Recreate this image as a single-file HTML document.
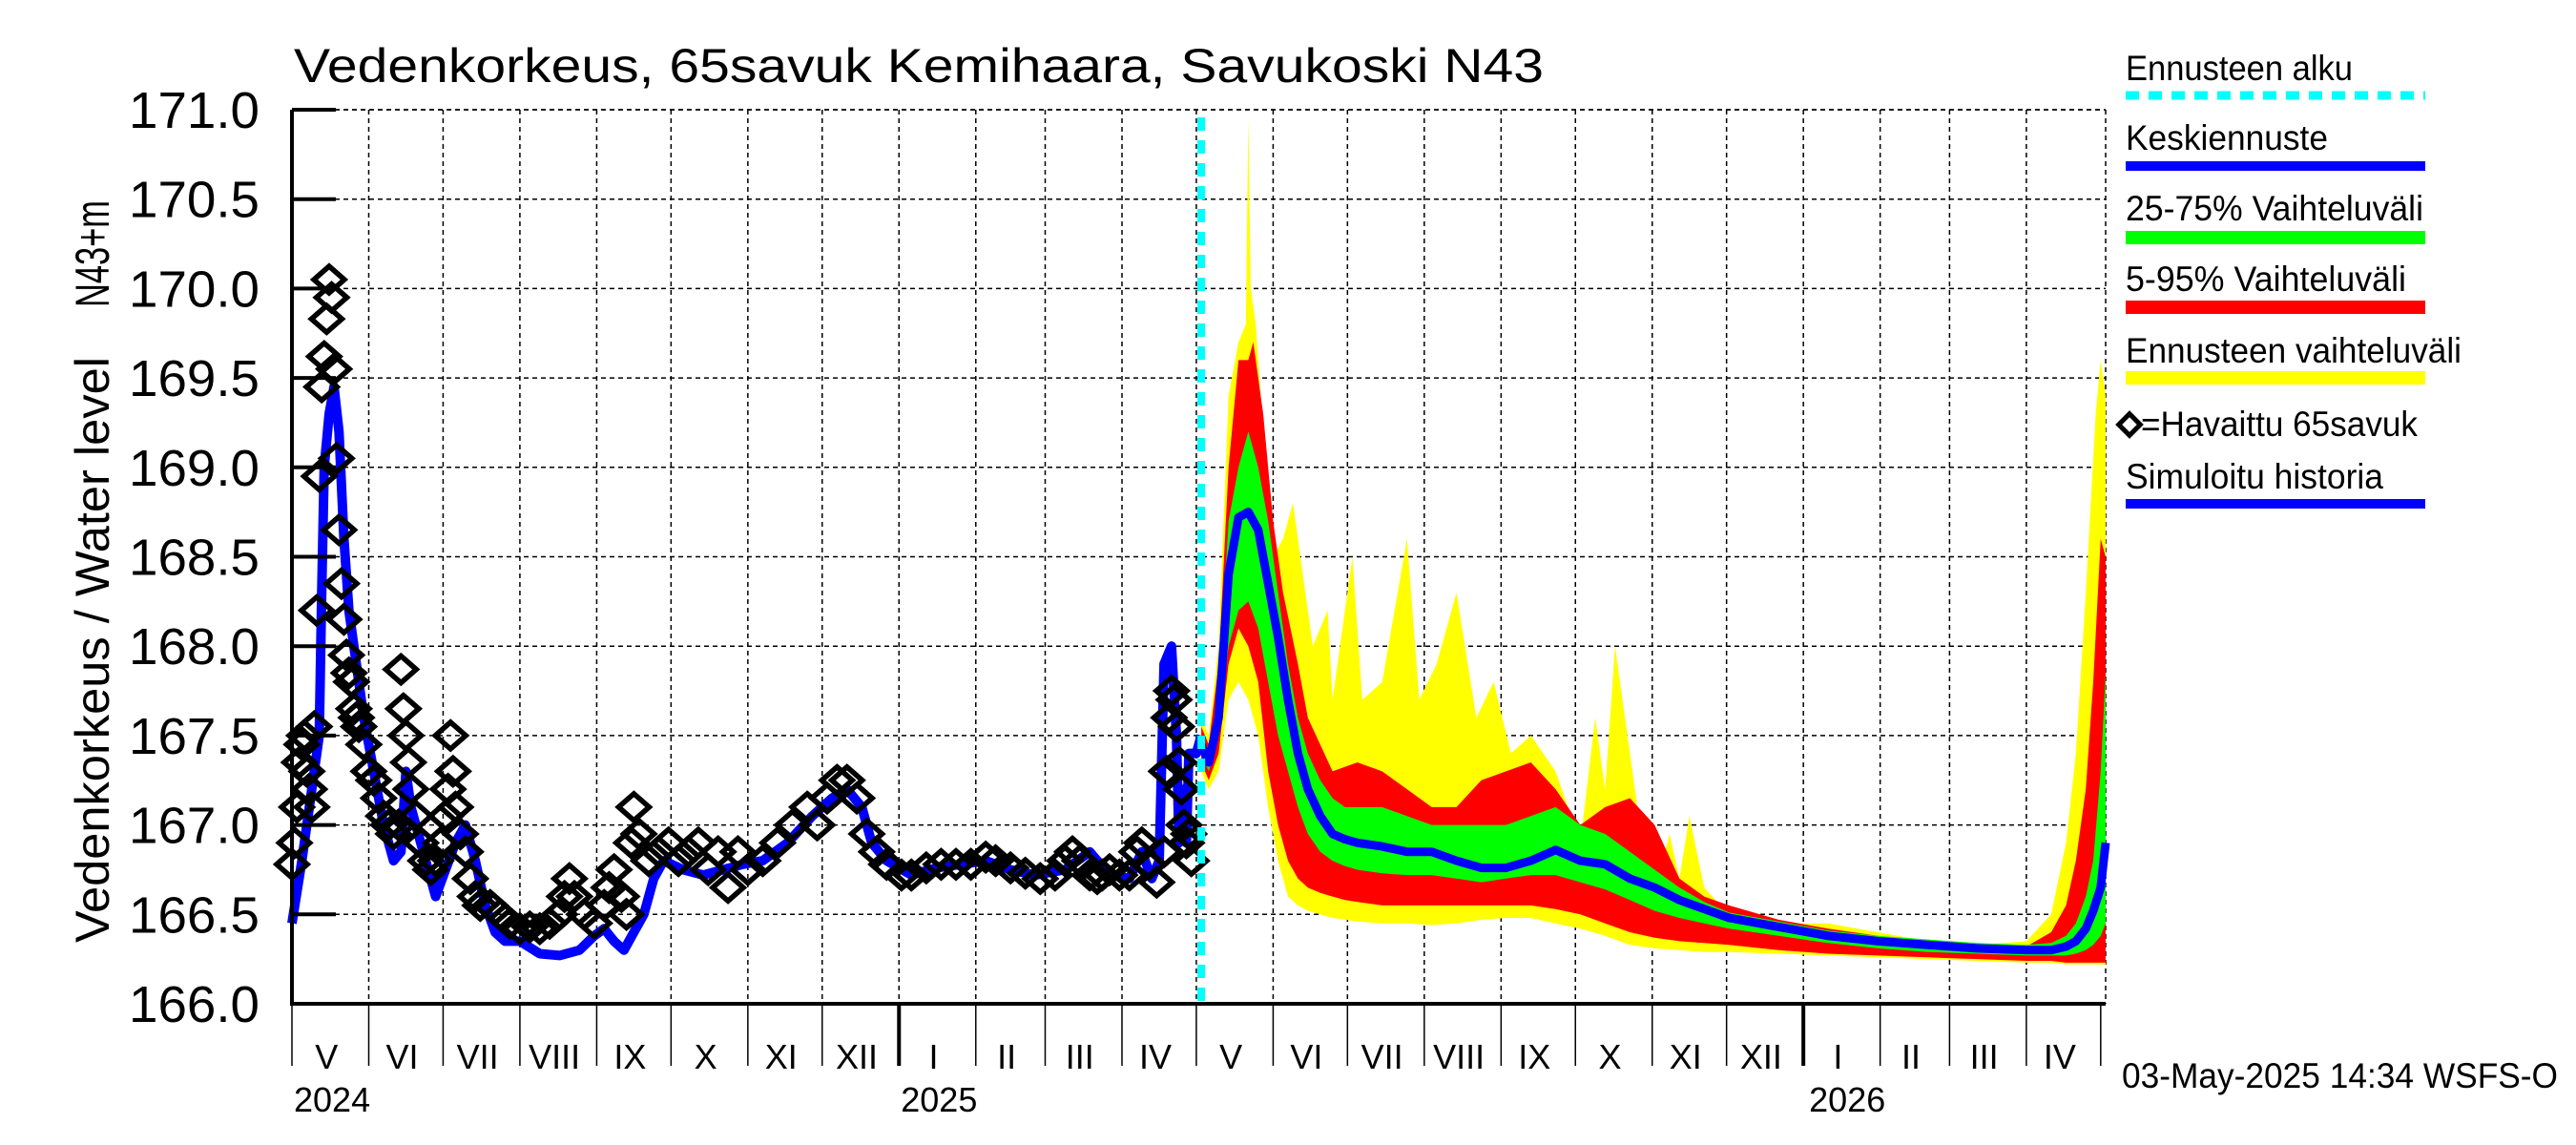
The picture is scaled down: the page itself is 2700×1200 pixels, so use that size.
<!DOCTYPE html>
<html><head><meta charset="utf-8"><title>Vedenkorkeus 65savuk</title>
<style>
html,body{margin:0;padding:0;background:#fff;}
svg{display:block;font-family:"Liberation Sans",Arial,sans-serif;}
</style></head>
<body>
<svg id="chart" width="2700" height="1200" viewBox="0 0 2700 1200" xmlns="http://www.w3.org/2000/svg">
<rect width="2700" height="1200" fill="#fff"/>
<g id="grid"></g>
<g id="bands"></g>
<g id="lines"></g>
<g id="marks"></g>
<g id="axes"></g>
<text x="308" y="86" font-size="50" textLength="1310" lengthAdjust="spacingAndGlyphs">Vedenkorkeus, 65savuk Kemihaara, Savukoski N43</text>
<text transform="translate(114,988) rotate(-90)" font-size="50" textLength="614" lengthAdjust="spacingAndGlyphs">Vedenkorkeus / Water level</text>
<text transform="translate(114,322) rotate(-90)" font-size="50" textLength="112" lengthAdjust="spacingAndGlyphs">N43+m</text>
<g font-size="37">
<text x="2228" y="84" textLength="238" lengthAdjust="spacingAndGlyphs">Ennusteen alku</text>
<line x1="2228" y1="100" x2="2542" y2="100" stroke="#00ffff" stroke-width="9" stroke-dasharray="14,10"/>
<text x="2228" y="157" textLength="212" lengthAdjust="spacingAndGlyphs">Keskiennuste</text>
<line x1="2228" y1="174" x2="2542" y2="174" stroke="#0000ff" stroke-width="10"/>
<text x="2228" y="231" textLength="312" lengthAdjust="spacingAndGlyphs">25-75% Vaihteluväli</text>
<line x1="2228" y1="249" x2="2542" y2="249" stroke="#00ff00" stroke-width="14"/>
<text x="2228" y="305" textLength="294" lengthAdjust="spacingAndGlyphs">5-95% Vaihteluväli</text>
<line x1="2228" y1="322" x2="2542" y2="322" stroke="#ff0000" stroke-width="14"/>
<text x="2228" y="380" textLength="352" lengthAdjust="spacingAndGlyphs">Ennusteen vaihteluväli</text>
<line x1="2228" y1="396" x2="2542" y2="396" stroke="#ffff00" stroke-width="14"/>
<rect x="2224" y="437" width="16" height="16" transform="rotate(45 2232 445)" fill="none" stroke="#000" stroke-width="5"/>
<text x="2244" y="457" textLength="290" lengthAdjust="spacingAndGlyphs">=Havaittu 65savuk</text>
<text x="2228" y="512" textLength="270" lengthAdjust="spacingAndGlyphs">Simuloitu historia</text>
<line x1="2228" y1="528" x2="2542" y2="528" stroke="#0000ff" stroke-width="10"/>
</g>
<text x="2224" y="1140" font-size="37" textLength="457" lengthAdjust="spacingAndGlyphs">03-May-2025 14:34 WSFS-O</text>
</svg>
<script>
// ---- data (day 0 = 2024-05-01) ----
const yTicks = [166.0,166.5,167.0,167.5,168.0,168.5,169.0,169.5,170.0,170.5,171.0];
const monthLengths = [31,30,31,31,30,31,30,31,31,28,31,30,31,30,31,31,30,31,30,31,31,28,31,30];
const monthLabels = ["V","VI","VII","VIII","IX","X","XI","XII","I","II","III","IV","V","VI","VII","VIII","IX","X","XI","XII","I","II","III","IV"];
const yearLabels = ["2024","2025","2026"];
const yearStartDays = [0,245,610];
const forecastStartDay = 367;

const histDays = [0,4,8,11,12,13,15,17,19,21,23,26,29,33,37,41,44,46,48,52,55,58,62,66,70,74,78,82,86,92,100,108,116,122,126,130,134,138,142,146,150,158,166,174,182,190,200,210,218,224,230,234,240,250,260,270,280,290,300,312,322,330,338,343,347,350,352,355,357,358,360,361,362,365,367];
const histVals = [166.45,166.8,167.2,167.5,168.3,169.0,169.3,169.45,169.2,168.6,168.2,167.9,167.6,167.3,167.0,166.8,166.85,167.3,167.1,166.9,166.75,166.6,166.75,166.9,167.0,166.8,166.55,166.4,166.35,166.35,166.28,166.27,166.3,166.38,166.42,166.35,166.3,166.4,166.5,166.7,166.8,166.75,166.72,166.75,166.78,166.8,166.9,167.05,167.15,167.2,167.1,166.9,166.8,166.72,166.76,166.78,166.8,166.75,166.72,166.75,166.85,166.72,166.7,166.85,166.7,166.8,167.9,168.0,167.5,166.9,167.2,166.9,167.4,167.4,167.5];

const obsDays = [0,1,2,3,4,5,6,7,8,9,10,11,12,13,14,15,16,17,18,19,20,21,22,23,24,25,26,27,29,31,33,35,37,39,41,43,44,45,46,47,48,50,52,54,56,58,60,62,63,64,65,66,68,70,72,74,76,80,84,88,92,96,100,104,108,110,112,114,118,122,126,128,130,133,135,137,138,140,144,148,152,156,160,164,168,172,176,180,184,190,196,202,208,212,216,220,224,228,232,236,240,246,250,256,262,268,274,280,284,290,296,302,308,312,315,318,322,325,327,330,334,338,341,343,346,349,352,353,354,355,356,357,358,359,360,361,362,363];
const obsVals = [166.78,166.9,167.1,167.35,167.45,167.5,167.3,167.2,167.1,167.55,168.2,168.95,169.45,169.62,169.83,170.05,169.95,169.55,169.05,168.65,168.35,168.15,167.95,167.85,167.8,167.65,167.6,167.55,167.45,167.3,167.25,167.15,167.05,167.0,166.95,167.0,167.87,167.65,167.5,167.35,167.2,167.05,166.9,166.8,166.75,166.8,166.9,167.05,167.2,167.5,167.3,167.1,166.95,166.85,166.7,166.6,166.55,166.55,166.5,166.45,166.42,166.43,166.42,166.45,166.5,166.6,166.7,166.6,166.5,166.45,166.55,166.65,166.75,166.6,166.5,166.9,167.1,166.95,166.8,166.85,166.9,166.8,166.85,166.9,166.75,166.85,166.65,166.85,166.75,166.8,166.9,167.0,167.1,167.0,167.15,167.25,167.25,167.15,166.95,166.85,166.78,166.72,166.72,166.76,166.78,166.78,166.78,166.82,166.8,166.76,166.73,166.7,166.72,166.8,166.85,166.8,166.72,166.7,166.72,166.75,166.72,166.72,166.85,166.9,166.78,166.68,166.85,167.3,167.6,167.75,167.7,167.55,167.35,167.2,167.0,166.9,166.95,166.8];

const fDays = [367,370,374,378,382,386,390,394,398,402,406,410,415,420,425,430,440,450,460,470,480,490,500,510,520,530,540,550,560,570,580,600,620,640,660,680,700,710,716,720,724,727,730,732];
const medianVals = [167.45,167.35,167.6,168.4,168.72,168.75,168.65,168.35,168.05,167.7,167.4,167.2,167.05,166.95,166.92,166.9,166.88,166.85,166.85,166.8,166.76,166.76,166.8,166.86,166.8,166.78,166.7,166.65,166.58,166.53,166.48,166.43,166.38,166.35,166.33,166.31,166.3,166.3,166.32,166.35,166.42,166.52,166.65,166.9];
const p75Vals = [167.5,167.4,167.75,168.7,169.0,169.2,169.0,168.7,168.3,167.9,167.6,167.4,167.25,167.15,167.1,167.1,167.1,167.05,167.0,167.0,167.0,167.0,167.05,167.1,167.0,166.95,166.85,166.75,166.65,166.57,166.51,166.46,166.41,166.38,166.36,166.34,166.33,166.34,166.38,166.45,166.6,166.8,167.3,167.85];
const p25Vals = [167.4,167.3,167.5,168.0,168.2,168.25,168.1,167.8,167.5,167.3,167.1,166.95,166.85,166.8,166.77,166.75,166.73,166.72,166.72,166.7,166.68,166.7,166.72,166.72,166.68,166.64,166.58,166.52,166.48,166.45,166.42,166.38,166.34,166.31,166.29,166.28,166.27,166.27,166.27,166.28,166.3,166.33,166.38,166.45];
const p5Vals = [167.35,167.25,167.4,167.9,168.1,168.0,167.8,167.3,167.0,166.8,166.7,166.65,166.62,166.6,166.58,166.57,166.55,166.55,166.55,166.55,166.55,166.55,166.55,166.53,166.5,166.45,166.4,166.37,166.35,166.34,166.33,166.3,166.28,166.27,166.26,166.25,166.24,166.24,166.23,166.23,166.23,166.23,166.23,166.23];
const minVals = [167.3,167.2,167.3,167.7,167.8,167.7,167.5,167.1,166.8,166.6,166.55,166.52,166.5,166.48,166.47,166.46,166.45,166.45,166.44,166.45,166.47,166.48,166.48,166.45,166.42,166.38,166.33,166.31,166.3,166.29,166.29,166.28,166.27,166.26,166.25,166.24,166.23,166.23,166.22,166.22,166.22,166.22,166.22,166.22];
const p95Days = [367,370,374,378,382,386,388,392,396,400,406,410,420,430,440,450,460,470,480,490,500,510,520,530,540,550,560,570,580,600,620,640,660,680,700,710,716,720,724,727,730,732];
const p95Vals = [167.55,167.45,167.9,169.0,169.6,169.6,169.7,169.3,168.7,168.3,167.9,167.6,167.3,167.35,167.3,167.2,167.1,167.1,167.25,167.3,167.35,167.2,167.0,167.1,167.15,167.0,166.7,166.6,166.55,166.47,166.42,166.38,166.35,166.33,166.32,166.4,166.55,166.8,167.2,167.8,168.6,168.5];
const maxDays = [367,370,374,378,382,385,386,387,389,392,396,400,404,408,412,418,420,428,432,440,450,455,462,470,478,485,492,500,510,520,526,530,534,540,546,550,556,560,564,570,580,600,620,640,660,680,700,710,716,720,724,728,730,732];
const maxVals = [167.6,167.5,168.0,169.4,169.7,169.8,170.95,170.0,169.8,169.2,168.5,168.6,168.8,168.4,168.0,168.2,167.7,168.5,167.7,167.8,168.6,167.7,167.9,168.3,167.6,167.8,167.4,167.5,167.3,166.9,167.6,167.2,168.0,167.4,166.8,166.6,166.95,166.7,167.05,166.65,166.5,166.45,166.45,166.4,166.35,166.33,166.35,166.5,166.9,167.4,168.3,169.3,169.6,169.4];

// ---- scales ----
const X0 = 306, PXDAY = 2.597, XR = 2207;
const YB = 1052, PXV = 187.4;
function xs(d){ return X0 + d * PXDAY; }
function ys(v){ return YB - (v - 166) * PXV; }
const NS = "http://www.w3.org/2000/svg";
function mk(tag, parent, attrs){
  const e = document.createElementNS(NS, tag);
  for (const k in attrs) e.setAttribute(k, attrs[k]);
  parent.appendChild(e);
  return e;
}
const grid = document.getElementById('grid');
const axes = document.getElementById('axes');
const bands = document.getElementById('bands');
const lines = document.getElementById('lines');
const marks = document.getElementById('marks');

yTicks.forEach(v => {
  const y = ys(v);
  if (v > 166) {
    const g = mk('line', grid, {x1:X0, y1:y, x2:XR, y2:y, stroke:'#000', 'stroke-width':1.5, 'stroke-dasharray':'5,4'});
    
    
  }
  const t = mk('line', axes, {x1:X0, y1:y, x2:X0+46, y2:y, stroke:'#000', 'stroke-width':4});
  
  
  const lab = mk('text', axes, {x:272, y:y+19, 'font-size':54, 'text-anchor':'end', textLength:137, lengthAdjust:'spacingAndGlyphs'});
  lab.textContent = v.toFixed(1);
  
  
});
const tb = mk('line', grid, {x1:X0, y1:ys(171), x2:XR, y2:ys(171), stroke:'#000', 'stroke-width':1.5, 'stroke-dasharray':'5,4'});


const rb = mk('line', grid, {x1:XR, y1:ys(171), x2:XR, y2:YB, stroke:'#000', 'stroke-width':1.5, 'stroke-dasharray':'5,4'});



let cum = 0;
monthLengths.forEach((len, i) => {
  const xa = xs(cum), xb = xs(cum + len);
  if (cum > 0) {
    const g = mk('line', grid, {x1:xa, y1:ys(171), x2:xa, y2:YB, stroke:'#000', 'stroke-width':1.5, 'stroke-dasharray':'5,4'});
    
    
  }
  const isYear = yearStartDays.indexOf(cum) >= 0 && cum > 0;
  const tk = mk('line', axes, {x1:xa, y1:YB, x2:xa, y2:1117, stroke:'#000', 'stroke-width':isYear ? 4 : 1.5});
  
  
  const ml = mk('text', axes, {x:(xa+xb)/2 - 4, y:1120, 'font-size':36, 'text-anchor':'middle'});
  ml.textContent = monthLabels[i];
  
  
  cum += len;
});
const lastTk = mk('line', axes, {x1:xs(cum), y1:YB, x2:xs(cum), y2:1117, stroke:'#000', 'stroke-width':1.5});


yearLabels.forEach((yl, i) => {
  const x = i === 2 ? xs(yearStartDays[i]) + 6 : xs(yearStartDays[i]) + 2;
  const t = mk('text', axes, {x:x, y:1165, 'font-size':36});
  t.textContent = yl;
  
  
});

function bandPath(dTop, vTop, dBot, vBot){
  let p = '';
  dTop.forEach((d, i) => { p += (i ? 'L' : 'M') + xs(d).toFixed(1) + ',' + ys(vTop[i]).toFixed(1); });
  for (let i = dBot.length - 1; i >= 0; i--) p += 'L' + xs(dBot[i]).toFixed(1) + ',' + ys(vBot[i]).toFixed(1);
  return p + 'Z';
}
const by = mk('path', bands, {d:bandPath(maxDays, maxVals, fDays, minVals), fill:'#ffff00'});


const br = mk('path', bands, {d:bandPath(p95Days, p95Vals, fDays, p5Vals), fill:'#ff0000'});


const bg = mk('path', bands, {d:bandPath(fDays, p75Vals, fDays, p25Vals), fill:'#00ff00'});



function linePath(ds, vs){
  return ds.map((d, i) => (i ? 'L' : 'M') + xs(d).toFixed(1) + ',' + ys(vs[i]).toFixed(1)).join('');
}
const mdl = mk('path', lines, {d:linePath(fDays, medianVals), fill:'none', stroke:'#0000ff', 'stroke-width':9, 'stroke-linejoin':'round'});


const hl = mk('path', lines, {d:linePath(histDays, histVals), fill:'none', stroke:'#0000ff', 'stroke-width':10, 'stroke-linejoin':'round'});



obsDays.forEach((d, i) => {
  const cx = xs(d), cy = ys(obsVals[i]);
  const m = mk('path', marks, {d:'M'+(cx-16)+','+cy+'L'+cx+','+(cy-14)+'L'+(cx+16)+','+cy+'L'+cx+','+(cy+14)+'Z', fill:'none', stroke:'#000', 'stroke-width':5.5});
  
  
});

const fs = mk('line', marks, {x1:xs(forecastStartDay), y1:ys(171)+8, x2:xs(forecastStartDay), y2:YB, stroke:'#00ffff', 'stroke-width':8, 'stroke-dasharray':'14,10'});



const ya = mk('line', axes, {x1:X0, y1:ys(171), x2:X0, y2:YB+2, stroke:'#000', 'stroke-width':4});


const xa = mk('line', axes, {x1:X0, y1:YB, x2:XR, y2:YB, stroke:'#000', 'stroke-width':4});


</script>
</body></html>
